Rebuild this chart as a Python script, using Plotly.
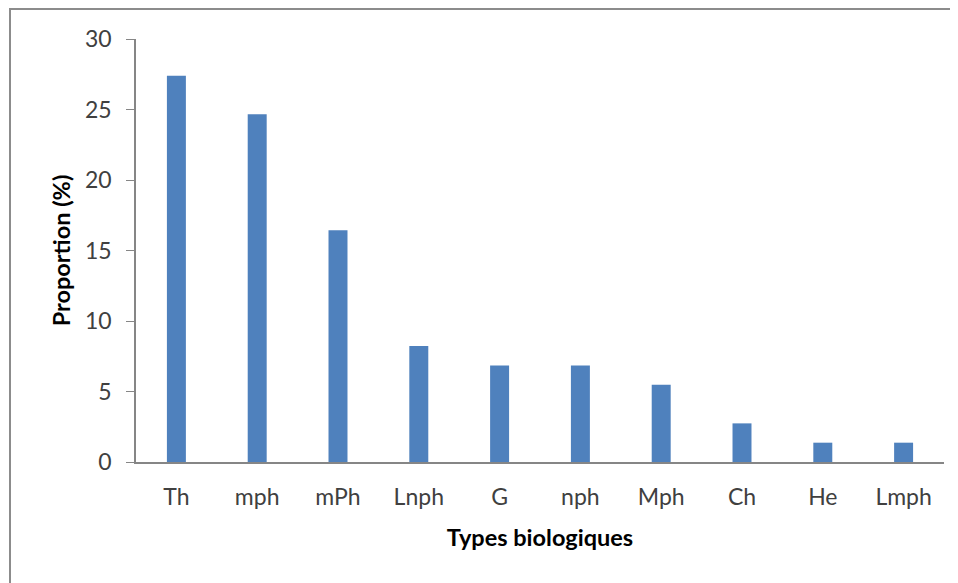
import plotly.graph_objects as go

categories = ["Th", "mph", "mPh", "Lnph", "G", "nph", "Mph", "Ch", "He", "Lmph"]
proportions = [27.4, 24.66, 16.44, 8.22, 6.85, 6.85, 5.48, 2.74, 1.37, 1.37]
y_ticks = [0, 5, 10, 15, 20, 25, 30]

# page has an 8px body margin, so the figure is drawn 8px smaller and offset
OFF = 8
W, H = 958 - OFF, 583 - OFF
ml, mr, mt, mb = 136 - OFF, 14, 39 - OFF, 121
pw, ph = W - ml - mr, H - mt - mb

fig = go.Figure(go.Bar(
    x=categories, y=proportions,
    marker=dict(color="#4F81BD", line=dict(color="#4F81BD", width=0)),
))

fig.update_layout(
    width=W, height=H,
    margin=dict(l=ml, r=mr, t=mt, b=mb, pad=0),
    paper_bgcolor="white", plot_bgcolor="white",
    bargap=0.765,
    showlegend=False,
    font=dict(family="Lato, Open Sans, sans-serif", color="#404040"),
    xaxis=dict(
        showline=True, linecolor="#868686", linewidth=1.5,
        ticks="", tickfont=dict(size=23, color="#404040"),
        ticklabelstandoff=14,
        title=dict(text="<b>Types biologiques</b>", font=dict(size=23.5, color="black"), standoff=20),
        showgrid=False,
    ),
    yaxis=dict(
        range=[0, 30], tickvals=y_ticks,
        showline=True, linecolor="#868686", linewidth=1.5,
        ticks="outside", ticklen=8, tickcolor="#868686",
        ticklabelstandoff=10,
        tickfont=dict(size=23, color="#404040"),
        title=dict(text="<b>Proportion (%)</b>", font=dict(size=23.5, color="black"), standoff=8),
        showgrid=False, zeroline=False,
    ),
    shapes=[dict(
        type="rect", xref="paper", yref="paper",
        x0=(10 - OFF - ml) / pw, x1=(W + 20 - ml) / pw,
        y0=-(H + 20 - mt - ph) / ph, y1=(mt + ph - (9 - OFF)) / ph,
        line=dict(color="#8c8c8c", width=2), fillcolor="rgba(0,0,0,0)",
    )],
)

fig.write_html("out.html")
